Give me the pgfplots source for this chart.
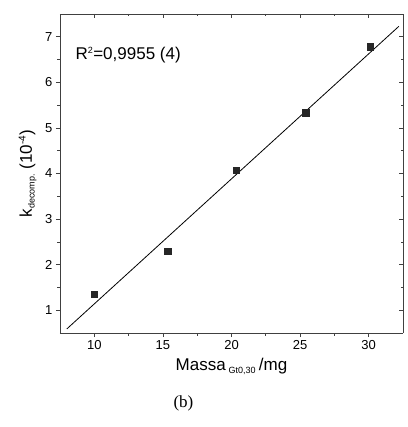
\documentclass[border=0pt]{standalone}
\usepackage{amsmath}
\usepackage{fontspec}
\setmainfont{Liberation Sans}
\newfontfamily\capfont{Liberation Serif}
\usepackage{pgfplots}
\pgfplotsset{compat=1.18}

\begin{document}
\begin{tikzpicture}
  \pgfplotsset{
    every axis/.append style={
      scale only axis,
      width=343pt, height=319pt,
      xmin=7.5, xmax=32.5,
      ymin=0.5, ymax=7.5,
      xtick={10,15,20,25,30},
      ytick={1,2,3,4,5,6,7},
      minor x tick num=1,
      minor y tick num=1,
      axis line style={black!75, line width=0.8pt},
      major tick length=4pt,
      minor tick length=2.5pt,
      every tick/.style={black!75, line width=0.7pt},
    },
  }
  \begin{axis}[
    axis x line*=bottom,
    axis y line*=left,
    tick align=outside,
    /pgf/number format/assume math mode=true,
    tick label style={font=\fontsize{13}{15}\selectfont},
    xlabel={\fontsize{17}{20}\selectfont Massa\,$_{\text{\fontsize{9}{10}\selectfont Gt0,30}}$\,/mg},
    ylabel={\fontsize{17}{20}\selectfont k$_{\text{\fontsize{9}{10}\selectfont decomp.}}$ (10$^{\text{\fontsize{10}{11}\selectfont -4}}$)},
    xlabel style={yshift=-2pt},
    ylabel style={yshift=2pt},
    clip=false,
  ]
    % data
    \addplot[only marks, mark=square*, mark size=3.2pt, black!85] coordinates {
      (10.0, 1.35)
      (15.35, 2.29)
      (20.35, 4.07)
      (25.4, 5.33)
      (30.1, 6.78)
    };
    % linear fit
    \addplot[black, line width=0.8pt] coordinates {
      (8.0, 0.59)
      (32.2, 7.23)
    };
    \node[anchor=west, font=\fontsize{17}{20}\selectfont] at (rel axis cs:0.035,0.872)
      {R$^{\text{\fontsize{9}{10}\selectfont 2}}$=0,9955 (4)};
    \node[font=\capfont\fontsize{17}{20}\selectfont] at (rel axis cs:0.36,0) [yshift=-70pt] {(b)};
  \end{axis}
  \begin{axis}[
    axis x line*=top,
    axis y line*=right,
    tick align=inside,
    xticklabels={}, yticklabels={},
  ]
  \end{axis}
  \pgfresetboundingbox
  \path ([shift={(-60pt,-94pt)}]current axis.south west) rectangle ([shift={(4pt,14pt)}]current axis.north east);
\end{tikzpicture}
\end{document}
